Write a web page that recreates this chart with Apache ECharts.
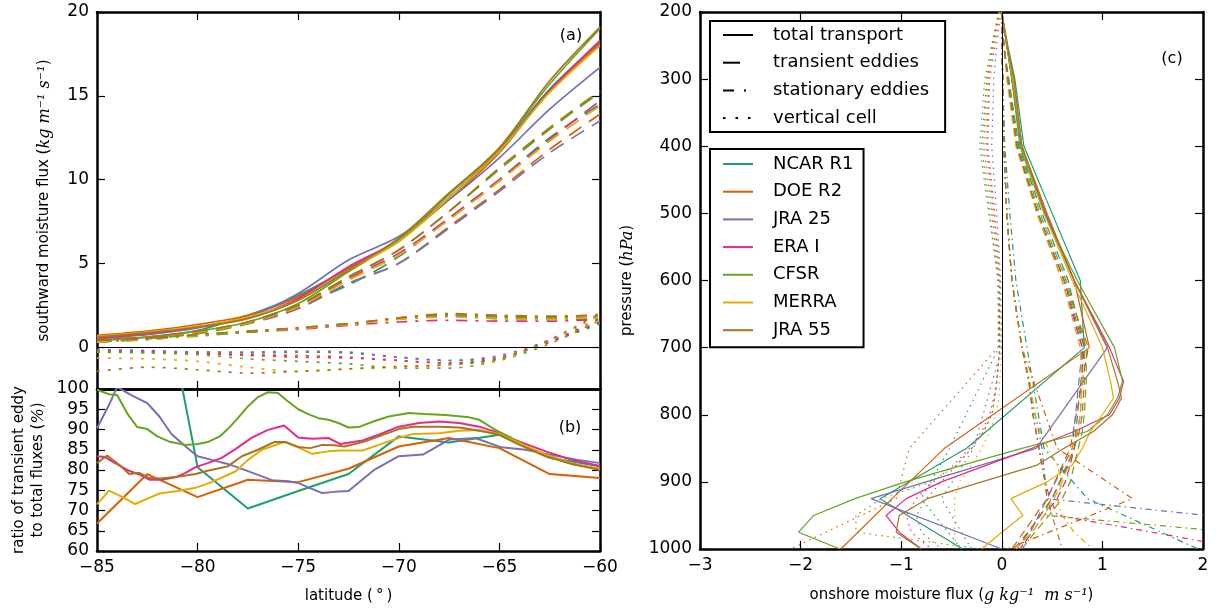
<!DOCTYPE html>
<html>
<head>
<meta charset="utf-8">
<script src="https://cdn.jsdelivr.net/npm/echarts@6/dist/echarts.min.js"></script>
<style>
html, body { margin: 0; padding: 0; background: #fff; }
#main { width: 1216px; height: 610px; }
</style>
</head>
<body>
<div id="main"></div>
<script>
var myChart = echarts.init(document.getElementById('main'));

// 再分析资料名称和颜色
var models = ['NCAR R1', 'DOE R2', 'JRA 25', 'ERA I', 'CFSR', 'MERRA', 'JRA 55'];
var colors = ['#1b9e77', '#d95f02', '#7570b3', '#e7298a', '#66a61e', '#e6ab02', '#a6761d'];
var parts = ['total transport', 'transient eddies', 'stationary eddies', 'vertical cell'];
// 线型：(a)(b) 线宽较粗，(c) 较细
var dashA = ['solid', [15, 9], [11, 8, 3, 8], [3, 8]];
var dashC = ['solid', [8, 5], [6, 4, 1.5, 4], [1.5, 4.5]];
var dashLegend = ['solid', [17, 16], [11, 10, 2, 10], [2.5, 10]];

// (a) 纬度格点
var latA = [-85, -82.5, -80, -77.5, -75, -72.5, -70, -67.5, -65, -62.5, -60];
var aTotal = [
  [0.45, 0.6, 1.0, 1.9, 3.1, 4.7, 6.3, 8.9, 11.8, 15.4, 18.2],
  [0.7, 0.95, 1.35, 1.9, 3.0, 4.7, 6.4, 8.8, 11.6, 15.3, 18.1],
  [0.5, 0.75, 1.15, 1.8, 3.2, 5.2, 6.6, 8.8, 11.3, 14.2, 16.7],
  [0.55, 0.8, 1.2, 1.75, 2.9, 4.8, 6.4, 8.9, 11.7, 15.3, 18.3],
  [0.4, 0.6, 0.95, 1.5, 2.6, 4.5, 6.4, 9.1, 11.9, 15.7, 19.0],
  [0.65, 0.9, 1.25, 1.8, 2.8, 4.6, 6.3, 8.9, 11.7, 15.2, 18.0],
  [0.6, 0.85, 1.2, 1.7, 2.8, 4.6, 6.5, 9.2, 11.9, 15.9, 19.1]
];
var aTransient = [
  [0.3, 0.5, 0.85, 1.5, 2.5, 3.7, 5.4, 7.7, 10.0, 12.5, 14.5],
  [0.4, 0.6, 0.9, 1.4, 2.3, 3.8, 5.0, 7.2, 9.4, 11.8, 13.9],
  [0.35, 0.55, 0.9, 1.4, 2.3, 3.8, 5.0, 7.1, 9.3, 11.6, 13.5],
  [0.35, 0.55, 0.9, 1.45, 2.4, 4.1, 5.6, 7.7, 10.0, 12.4, 14.7],
  [0.3, 0.5, 0.8, 1.4, 2.5, 4.2, 5.8, 8.1, 10.6, 13.0, 15.2],
  [0.4, 0.6, 0.9, 1.45, 2.4, 4.0, 5.5, 7.6, 9.9, 12.3, 14.4],
  [0.4, 0.6, 0.95, 1.5, 2.5, 4.2, 5.8, 8.1, 10.7, 13.1, 15.3]
];
var aStationary = [
  [0.3, 0.45, 0.7, 0.9, 1.15, 1.4, 1.7, 1.85, 1.8, 1.7, 1.6],
  [0.45, 0.55, 0.75, 0.95, 1.15, 1.35, 1.75, 1.95, 1.85, 1.8, 1.95],
  [0.35, 0.5, 0.7, 0.9, 1.1, 1.35, 1.7, 1.85, 1.7, 1.7, 1.8],
  [0.4, 0.5, 0.7, 0.9, 1.05, 1.3, 1.5, 1.6, 1.55, 1.55, 1.65],
  [0.35, 0.5, 0.65, 0.9, 1.1, 1.4, 1.7, 1.95, 1.8, 1.75, 1.75],
  [0.3, 0.45, 0.7, 0.95, 1.1, 1.35, 1.65, 1.8, 1.7, 1.65, 1.8],
  [0.4, 0.5, 0.75, 0.95, 1.15, 1.4, 1.75, 2.0, 1.9, 1.85, 1.9]
];
var aVertical = [
  [-0.2, -0.25, -0.3, -0.35, -0.3, -0.35, -0.6, -0.8, -0.6, 0.3, 1.4],
  [-0.25, -0.3, -0.35, -0.45, -0.5, -0.6, -0.8, -0.95, -0.7, 0.35, 1.7],
  [-0.15, -0.2, -0.3, -0.3, -0.25, -0.3, -0.6, -0.8, -0.5, 0.4, 1.5],
  [-0.3, -0.3, -0.4, -0.5, -0.6, -0.65, -0.8, -0.95, -0.65, 0.3, 1.5],
  [-0.3, -0.35, -0.45, -0.7, -0.85, -1.0, -1.25, -1.25, -0.8, 0.2, 1.6],
  [-0.65, -0.7, -0.85, -1.2, -1.45, -1.3, -1.2, -1.05, -0.75, 0.4, 1.9],
  [-1.45, -1.2, -1.35, -1.55, -1.45, -1.3, -1.15, -1.05, -0.7, 0.45, 2.0]
];

// (b) 瞬变涡比例
var bLat = [
  [-85, -82.5, -80, -77.5, -75, -72.5, -70, -67.5, -65, -62.5, -60],
  [-85, -82.5, -80, -77.5, -75, -72.5, -70, -67.5, -65, -62.5, -60],
  [-85, -84.4, -84.0, -83.3, -82.5, -81.9, -81.3, -80.6, -80, -79.3, -78.5, -77.6, -76.3, -75.5, -75, -74.5, -73.8, -73.2, -72.5, -71.2, -70, -68.8, -67.5, -66.2, -64.9, -63.7, -62.5, -61.1, -60],
  [-85, -84.6, -84.1, -83.4, -82.9, -82.4, -81.8, -81.1, -80.6, -80.1, -79.5, -78.8, -78.1, -77.3, -76.5, -75.7, -75, -74.3, -73.5, -72.9, -72.2, -71.8, -71, -70, -69, -68, -67, -66, -65, -64, -62.7, -61.4, -60],
  [-85, -84.4, -84, -83.5, -83, -82.5, -82, -81.4, -80.6, -80, -79.5, -78.9, -78.5, -78, -77.5, -77, -76.5, -76, -75.6, -75, -74.5, -74, -73.5, -73, -72.5, -72, -71.2, -70.5, -69.5, -68.7, -67.7, -66.5, -66, -65.2, -64.4, -63.5, -62.5, -61.4, -60],
  [-85, -84.4, -83.8, -83.1, -82.4, -81.9, -81, -80.1, -79.3, -78.1, -77.5, -76.8, -75.7, -75, -74.3, -73.5, -72.9, -72.2, -71.8, -71, -70, -69.3, -68, -67, -66, -65, -64, -62.7, -61.4, -60],
  [-85, -84.5, -83.9, -83.4, -82.9, -82.4, -81.8, -80.9, -80.1, -79.5, -78.5, -77.8, -77, -76.2, -75.6, -75, -74.4, -73.8, -73.2, -72.7, -72.2, -71.7, -71, -70, -69.3, -68, -67, -66, -65, -64, -62.7, -61.4, -60]
];
var bRatio = [
  [150, 145, 80.7, 70.5, 74.8, 79, 88.3, 86.8, 88.7, 83, 80.9],
  [66.8, 79, 73.3, 77.6, 77, 80.3, 85.8, 87.9, 85.4, 79, 78],
  [90.3, 96.1, 100.5, 98.5, 96.5, 93.2, 88.9, 85.8, 83.4, 82.5, 81.5, 79.9, 77.5, 77.2, 76.8, 75.7, 74.3, 74.6, 74.8, 80.1, 83.4, 83.8, 87.5, 87.9, 85.6, 85, 83.8, 82.5, 81.7],
  [83.4, 83.2, 81.7, 79.8, 78.9, 77.6, 77.6, 78.2, 79.3, 80.7, 81.7, 83, 85.2, 88, 89.9, 91, 88, 87.7, 87.9, 86.4, 87.0, 87.3, 88.7, 90.7, 91.6, 92, 91.6, 90.7, 89.1, 87, 84.6, 82.5, 81.0],
  [99.8, 98.7, 98.5, 94, 90.6, 90.1, 88.3, 87, 86.2, 86.4, 86.9, 88.3, 90.1, 92.8, 95.7, 98, 99.2, 99, 97.3, 95, 93.8, 92.8, 92.4, 91.6, 90.5, 90.6, 92.1, 93.2, 94.1, 93.8, 93.6, 93, 92.4, 89.9, 87.9, 85.4, 83.4, 81.5, 80.3],
  [71.5, 74.9, 73.5, 71.6, 73.1, 74.2, 74.8, 75.6, 77, 79.7, 82.5, 85, 86.9, 85.6, 84, 84.6, 84.8, 84.8, 84.8, 86.2, 87.9, 88.9, 89.1, 89.7, 89.9, 88.9, 86.6, 83.8, 81.7, 80.1],
  [81.7, 83.6, 81.3, 79, 79.3, 78, 77.9, 78.4, 79, 79.8, 80.9, 83.4, 85, 86.9, 86.9, 85.7, 85.4, 86.2, 86.1, 85.8, 86.4, 87, 88.3, 90.1, 90.7, 90.7, 90.5, 89.7, 88.7, 86.2, 83.4, 81.5, 80]
];

// (c) 气压层
var pCoarse = [200, 250, 300, 400, 500, 600, 700, 850, 925, 1000];
var pFine = [200, 250, 300, 400, 500, 600, 700, 750, 775, 800, 825, 850, 875, 900, 925, 950, 975, 1000];
var cLevels = [pCoarse, pCoarse, pCoarse, pFine, pFine, pFine, pFine];
var cTotal = [
  [0.0, 0.06, 0.13, 0.22, 0.5, 0.78, 0.82, -0.35, -1.21, -0.39],
  [0.0, 0.05, 0.12, 0.2, 0.45, 0.72, 0.87, -0.57, -1.09, -1.6],
  [0.0, 0.05, 0.1, 0.19, 0.44, 0.72, 1.05, 0.34, -1.3, 0.0],
  [0.0, 0.05, 0.1, 0.2, 0.43, 0.72, 1.07, 1.21, 1.17, 1.07, 0.72, 0.3, -0.15, -0.6, -0.95, -1.15, -1.02, -0.8],
  [0.0, 0.05, 0.1, 0.18, 0.42, 0.75, 1.12, 1.2, 1.15, 1.05, 0.85, 0.2, -0.39, -0.96, -1.46, -1.87, -2.02, -1.61],
  [0.0, 0.05, 0.11, 0.2, 0.42, 0.7, 1.0, 1.08, 1.11, 1.0, 0.88, 0.8, 0.7, 0.45, 0.09, 0.21, 0.0, -0.2],
  [0.0, 0.05, 0.12, 0.2, 0.43, 0.72, 1.05, 1.15, 1.19, 1.1, 0.91, 0.62, 0.35, -0.2, -0.74, -1.02, -1.05, -0.8]
];
var cTransient = [
  [0.0, 0.02, 0.07, 0.17, 0.4, 0.66, 0.82, 0.72, 0.5, 0.15],
  [0.0, 0.02, 0.06, 0.15, 0.36, 0.62, 0.86, 0.68, 0.45, 0.1],
  [0.0, 0.02, 0.06, 0.15, 0.35, 0.6, 0.8, 0.7, 0.45, 0.2],
  [0.0, 0.02, 0.06, 0.15, 0.36, 0.62, 0.8, 0.8, 0.79, 0.78, 0.75, 0.72, 0.68, 0.63, 0.55, 0.42, 0.3, 0.18],
  [0.0, 0.02, 0.06, 0.16, 0.38, 0.64, 0.84, 0.84, 0.83, 0.82, 0.8, 0.76, 0.72, 0.68, 0.6, 0.47, 0.33, 0.2],
  [0.0, 0.02, 0.05, 0.14, 0.35, 0.6, 0.78, 0.8, 0.79, 0.78, 0.75, 0.7, 0.66, 0.6, 0.52, 0.42, 0.3, 0.14],
  [0.0, 0.02, 0.06, 0.15, 0.36, 0.62, 0.82, 0.82, 0.81, 0.8, 0.77, 0.72, 0.66, 0.58, 0.5, 0.38, 0.26, 0.12]
];
var cStationary = [
  [0.0, 0.0, 0.01, 0.03, 0.08, 0.14, 0.25, 0.42, 0.85, 1.95],
  [0.0, 0.0, 0.01, 0.02, 0.05, 0.1, 0.2, 0.55, 1.3, 0.05],
  [0.0, 0.0, 0.01, 0.02, 0.05, 0.1, 0.2, 0.4, 0.45, 5.2],
  [0.0, 0.0, 0.01, 0.02, 0.05, 0.1, 0.2, 0.27, 0.29, 0.31, 0.34, 0.37, 0.4, 0.43, 0.48, 0.55, 1.5, 2.4],
  [0.0, 0.0, 0.01, 0.02, 0.05, 0.1, 0.2, 0.27, 0.29, 0.31, 0.34, 0.37, 0.4, 0.43, 0.45, 0.45, 2.3, 2.8],
  [0.0, 0.0, 0.01, 0.02, 0.05, 0.1, 0.2, 0.28, 0.3, 0.33, 0.38, 0.46, 0.55, 0.6, 0.55, 0.6, 0.72, 0.9],
  [0.0, 0.0, 0.01, 0.02, 0.05, 0.1, 0.2, 0.27, 0.29, 0.31, 0.34, 0.37, 0.4, 0.43, 0.45, 0.5, 0.55, 0.6]
];
var cVertical = [
  [-0.02, -0.08, -0.15, -0.2, -0.12, -0.04, -0.03, -0.52, -0.8, -0.4],
  [-0.03, -0.1, -0.13, -0.15, -0.08, -0.02, -0.04, -0.92, -1.05, -2.1],
  [-0.01, -0.05, -0.08, -0.1, -0.05, -0.01, 0.0, -0.28, -0.6, -0.3],
  [-0.02, -0.07, -0.12, -0.14, -0.07, -0.02, -0.02, -0.05, -0.08, -0.12, -0.2, -0.32, -0.48, -0.68, -0.85, -0.95, -0.9, -0.7],
  [-0.03, -0.1, -0.17, -0.22, -0.13, -0.03, -0.02, -0.05, -0.07, -0.1, -0.18, -0.3, -0.45, -0.7, -1.2, -1.45, -1.45, -0.2],
  [-0.02, -0.08, -0.14, -0.16, -0.09, -0.02, 0.0, -0.02, -0.03, -0.06, -0.12, -0.2, -0.3, -0.42, -0.47, -0.47, -0.47, -0.45],
  [-0.03, -0.09, -0.15, -0.18, -0.1, -0.03, -0.02, -0.05, -0.07, -0.1, -0.18, -0.3, -0.45, -0.6, -0.75, -0.85, -0.8, -0.6]
];

// 坐标轴样式
function fmt(v) { return String(v).replace('-', '\u2212'); }
var labelStyle = { show: true, color: '#000', fontFamily: 'DejaVu Sans', fontSize: 17, margin: 8, formatter: fmt };
var tickStyle = { show: true, inside: true, length: 8, lineStyle: { color: '#000', width: 1.2 } };
var mathStyle = { fontFamily: 'DejaVu Serif', fontStyle: 'italic', fontSize: 16, color: '#000' };
var nameStyle = {
  fontFamily: 'DejaVu Sans', fontSize: 15, color: '#000', lineHeight: 19,
  rich: { n: { fontFamily: 'DejaVu Sans', fontSize: 15, color: '#000', lineHeight: 19 }, m: mathStyle }
};

function ax(o) {
  var base = {
    type: 'value',
    axisLine: { show: true, onZero: false, lineStyle: { color: '#000', width: 2.5 } },
    axisTick: tickStyle,
    axisLabel: { show: false },
    splitLine: { show: false },
    nameLocation: 'middle',
    nameTextStyle: nameStyle
  };
  for (var k in o) base[k] = o[k];
  return base;
}

var aTicks = [0, 5, 10, 15, 20];

var series = [];
function addLine(name, xi, data, color, dash, width, smooth) {
  series.push({
    name: name, type: 'line', xAxisIndex: xi, yAxisIndex: xi,
    data: data, symbol: 'none', smooth: smooth || false,
    itemStyle: { color: color },
    lineStyle: { color: color, width: width, type: dash },
    silent: true
  });
}

var aParts = [aTotal, aTransient, aStationary, aVertical];
var cParts = [cTotal, cTransient, cStationary, cVertical];
for (var k = 0; k < 4; k++) {
  for (var m = 0; m < 7; m++) {
    addLine(models[m] + ' (a) ' + parts[k], 0,
      latA.map(function (lat, i) { return [lat, aParts[k][m][i]]; }),
      colors[m], dashA[k], 1.7, 0.3);
  }
}
for (var m = 0; m < 7; m++) {
  addLine(models[m], 2,
    bLat[m].map(function (lat, i) { return [lat, bRatio[m][i]]; }),
    colors[m], 'solid', 2);
}
for (var k = 0; k < 4; k++) {
  for (var m = 0; m < 7; m++) {
    addLine(models[m] + ' (c) ' + parts[k], 4,
      cParts[k][m].map(function (v, i) { return [v, cLevels[m][i]]; }),
      colors[m], dashC[k], 1.2);
  }
}
// 图例用的黑色线型
for (var k = 0; k < 4; k++) {
  addLine(parts[k], 4, [], '#000', dashLegend[k], 2.6);
}

// 零线
series[0].markLine = {
  silent: true, symbol: 'none', label: { show: false },
  lineStyle: { color: '#000', width: 1, type: 'solid' },
  data: [{ yAxis: 0 }]
};
series[35].markLine = {
  silent: true, symbol: 'none', label: { show: false },
  lineStyle: { color: '#000', width: 1, type: 'solid' },
  data: [{ xAxis: 0 }]
};

var legendBase = {
  orient: 'vertical', left: 710,
  itemWidth: 30, itemHeight: 14, itemGap: 7.7,
  borderColor: '#000', borderWidth: 2, borderRadius: 0,
  backgroundColor: '#fff', selectedMode: false,
  itemStyle: { opacity: 0 },
  textStyle: { fontFamily: 'DejaVu Sans', fontSize: 18, color: '#000', lineHeight: 20, padding: [0, 0, 0, 15] }
};

var option = {
  animation: false,
  backgroundColor: '#fff',
  grid: [
    { left: 97, top: 12, width: 503, height: 377 },
    { left: 97, top: 389, width: 503, height: 162 },
    { left: 700, top: 12, width: 503, height: 539 }
  ],
  xAxis: [
    ax({ gridIndex: 0, min: -85, max: -60, interval: 5, position: 'bottom' }),
    ax({ gridIndex: 0, min: -85, max: -60, interval: 5, position: 'top' }),
    ax({ gridIndex: 1, min: -85, max: -60, interval: 5, position: 'bottom', axisLabel: labelStyle,
      name: '{n|latitude (\u2009\u00b0\u2009)}', nameGap: 36 }),
    ax({ gridIndex: 1, min: -85, max: -60, interval: 5, position: 'top' }),
    ax({ gridIndex: 2, min: -3, max: 2, interval: 1, position: 'bottom', axisLabel: labelStyle,
      name: '{n|onshore moisture flux (}{m|g kg\u207b\u00b9  m s\u207b\u00b9}{n|)}', nameGap: 37 }),
    ax({ gridIndex: 2, min: -3, max: 2, interval: 1, position: 'top' })
  ],
  yAxis: [
    ax({ gridIndex: 0, min: -2.5, max: 20, position: 'left',
      axisTick: { show: true, inside: true, length: 8, customValues: aTicks, lineStyle: { color: '#000', width: 1.2 } },
      axisLabel: { show: true, color: '#000', fontFamily: 'DejaVu Sans', fontSize: 17, margin: 8, formatter: fmt, customValues: aTicks },
      name: '{n|southward moisture flux (}{m|kg m\u207b\u00b9 s\u207b\u00b9}{n|)}', nameGap: 43 }),
    ax({ gridIndex: 0, min: -2.5, max: 20, position: 'right',
      axisTick: { show: true, inside: true, length: 8, customValues: aTicks, lineStyle: { color: '#000', width: 1.2 } } }),
    ax({ gridIndex: 1, min: 60, max: 100, interval: 5, position: 'left', axisLabel: labelStyle,
      name: '{n|ratio of transient eddy}\n{n|to total fluxes (}{m|%}{n|)}', nameGap: 49 }),
    ax({ gridIndex: 1, min: 60, max: 100, interval: 5, position: 'right' }),
    ax({ gridIndex: 2, min: 200, max: 1000, interval: 100, inverse: true, position: 'left', axisLabel: labelStyle,
      name: '{n|pressure (}{m|hPa}{n|)}', nameGap: 63 }),
    ax({ gridIndex: 2, min: 200, max: 1000, interval: 100, inverse: true, position: 'right' })
  ],
  legend: [
    Object.assign({}, legendBase, { data: parts, top: 21, padding: [4, 16, 4, 12] }),
    Object.assign({}, legendBase, { data: models, top: 149, padding: [5, 10, 7, 12] })
  ],
  graphic: [
    { type: 'text', x: 571, y: 36, style: { text: '(a)', fontFamily: 'DejaVu Sans', fontSize: 16, fill: '#000', align: 'center', verticalAlign: 'middle' } },
    { type: 'text', x: 570, y: 428, style: { text: '(b)', fontFamily: 'DejaVu Sans', fontSize: 16, fill: '#000', align: 'center', verticalAlign: 'middle' } },
    { type: 'text', x: 1172, y: 59, style: { text: '(c)', fontFamily: 'DejaVu Sans', fontSize: 16, fill: '#000', align: 'center', verticalAlign: 'middle' } }
  ],
  series: series
};

myChart.setOption(option);
</script>
</body>
</html>
